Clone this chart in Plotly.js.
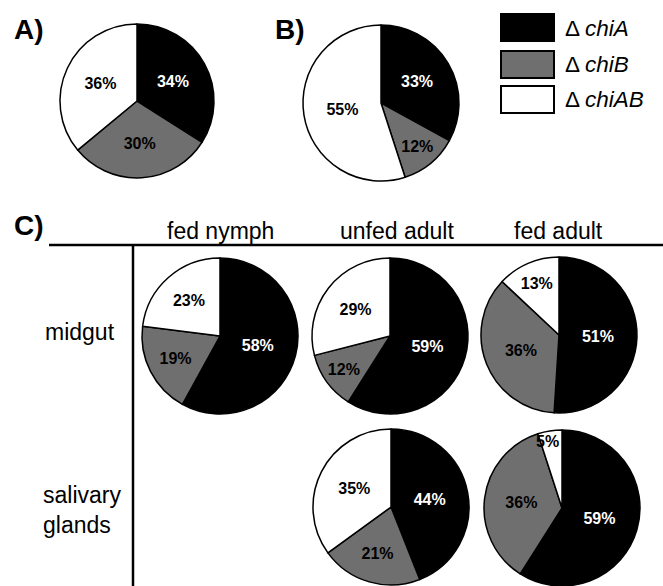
<!DOCTYPE html>
<html>
<head>
<meta charset="utf-8">
<script src="https://cdn.plot.ly/plotly-3.0.1.min.js"></script>
<style>
  html, body { margin: 0; padding: 0; background: #fff; }
  #chart { width: 663px; height: 586px; }
</style>
</head>
<body>
<div id="chart"></div>
<script>
// Mutant categories (slice order, clockwise from 12 o'clock)
const categories = ["Δ chiA", "Δ chiB", "Δ chiAB"];
const legendLabels = ["Δ <i>chiA</i>", "Δ <i>chiB</i>", "Δ <i>chiAB</i>"];
const sliceColors = ["#000000", "#6f6f6f", "#ffffff"];
const labelColors = ["#ffffff", "#000000", "#000000"];

// Percentages per panel
const panelA = [34, 30, 36];
const panelB = [33, 12, 55];
const fedNymphMidgut = [58, 19, 23];
const unfedAdultMidgut = [59, 12, 29];
const fedAdultMidgut = [51, 36, 13];
const unfedAdultSalivary = [44, 21, 35];
const fedAdultSalivary = [59, 36, 5];

// Table headings
const columnHeads = ["fed nymph", "unfed adult", "fed adult"];
const rowHeads = ["midgut", "salivary<br>glands"];

const W = 663, H = 586;
const FONT = "Liberation Sans, Arial, Helvetica, sans-serif";
const px = x => x / W;
const py = y => 1 - y / H;

function pie(values, cx, cy, r, template) {
  return {
    type: "pie",
    labels: categories,
    values: values,
    sort: false,
    direction: "clockwise",
    rotation: 0,
    showlegend: false,
    hoverinfo: "skip",
    marker: { colors: sliceColors, line: { color: "#000", width: 1.5 } },
    texttemplate: template || "%{value}%",
    textposition: "inside",
    insidetextorientation: "horizontal",
    textfont: { family: FONT, size: 16, weight: "bold", color: labelColors },
    domain: { x: [px(cx - r), px(cx + r)], y: [py(cy + r), py(cy - r)] }
  };
}

// The thin white wedge of the salivary fed-adult pie is labelled near the rim
const thin = { cx: 562, cy: 508, r: 78 };

const data = [
  pie(panelA, 137, 101, 77),
  pie(panelB, 381, 103, 78),
  pie(fedNymphMidgut, 220, 336, 78),
  pie(unfedAdultMidgut, 390, 336, 78),
  pie(fedAdultMidgut, 559, 335, 78),
  pie(unfedAdultSalivary, 391, 507, 78),
  pie(fedAdultSalivary, thin.cx, thin.cy, thin.r, ["%{value}%", "%{value}%", ""])
];

const shapes = [
  // table rules
  { type: "line", xref: "paper", yref: "paper", x0: px(49), x1: px(663), y0: py(245), y1: py(245), line: { color: "#000", width: 2.5 } },
  { type: "line", xref: "paper", yref: "paper", x0: px(133), x1: px(133), y0: py(245), y1: py(590), line: { color: "#000", width: 2.5 } }
];

const annotations = [];
function txt(text, x, y, size, opts) {
  annotations.push(Object.assign({
    xref: "paper", yref: "paper", x: px(x), y: py(y), text: text, showarrow: false,
    xanchor: "center", yanchor: "middle",
    font: { family: FONT, size: size, color: "#000" }
  }, opts || {}));
}

// Panel letters
txt("<b>A)</b>", 12, 30, 28, { xanchor: "left" });
txt("<b>B)</b>", 273, 30, 28, { xanchor: "left" });
txt("<b>C)</b>", 12, 226, 28, { xanchor: "left" });

// Legend swatches and labels
const legendTop = [14, 51, 86];
legendTop.forEach((t, i) => {
  shapes.push({ type: "rect", xref: "paper", yref: "paper",
    x0: px(501), x1: px(554), y0: py(t + 27), y1: py(t),
    fillcolor: sliceColors[i], line: { color: "#000", width: 2 } });
  txt(legendLabels[i], 563, t + 14, 22.5, { xanchor: "left" });
});

// Column and row headings
const colX = [220, 397, 558];
columnHeads.forEach((h, i) => txt(h, colX[i], 231, 23));
txt(rowHeads[0], 80, 332, 23);
txt(rowHeads[1], 82, 510, 23, { align: "left" });

// Label for the thin wedge, placed along its mid-angle
{
  const v = fedAdultSalivary;
  const total = v.reduce((a, b) => a + b, 0);
  const mid = (v[0] + v[1] + v[2] / 2) / total * 2 * Math.PI;
  const k = 0.86;
  const lx = thin.cx + k * thin.r * Math.sin(mid) - 4;
  const ly = thin.cy - k * thin.r * Math.cos(mid);
  annotations.push({
    xref: "paper", yref: "paper", x: px(lx), y: py(ly), showarrow: false,
    xanchor: "center", yanchor: "middle", text: "<b>" + v[2] + "%</b>",
    font: { family: FONT, size: 16, color: "#000" }
  });
}

Plotly.newPlot("chart", data, {
  width: W, height: H,
  margin: { l: 0, r: 0, t: 0, b: 0 },
  paper_bgcolor: "#fff",
  plot_bgcolor: "#fff",
  shapes: shapes,
  annotations: annotations
}, { displayModeBar: false, staticPlot: true });
</script>
</body>
</html>
